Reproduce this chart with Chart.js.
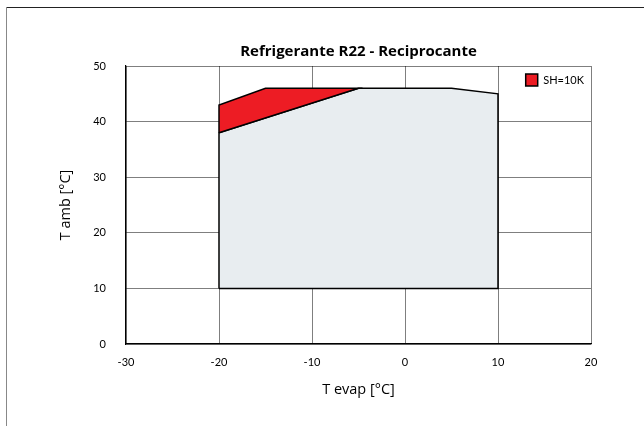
<!DOCTYPE html>
<html><head><meta charset="utf-8">
<script src="https://cdn.jsdelivr.net/npm/chart.js@4/dist/chart.umd.min.js"></script>
<style>html,body{margin:0;padding:0;background:#fff}#wrap{width:644px;height:426px}</style>
</head><body><div id="wrap"><canvas id="c" width="644" height="426"></canvas></div>
<script>
const chartTitle = "Refrigerante R22 - Reciprocante";
const xTitle = "T evap [°C]";
const yTitle = "T amb [°C]";
const seriesName = "SH=10K";
// operating envelope (grey)
const envX = [-20, -20, -5, 5, 10, 10, -20];
const envY = [10, 38, 46, 46, 45, 10, 10];
// SH=10K zone (red)
const redX = [-20, -20, -15, -5, -20];
const redY = [38, 43, 46, 46, 38];
const xMin = -30, xMax = 20, xStep = 10;
const yMin = 0, yMax = 50, yStep = 10;

const toPts = (xs, ys) => xs.map((x, i) => ({x, y: ys[i]}));
const FONT = "Lato, 'Open Sans', sans-serif";
const FONT2 = "'Open Sans', Lato, sans-serif";

const framePlugin = {
  id: 'frame',
  afterLayout(chart) {
    const lg = chart.legend, ca = chart.chartArea;
    if (!lg) return;
    const w = lg.width, h = lg.height;
    lg.left = ca.right - w + 3; lg.right = lg.left + w;
    lg.top = ca.top + 3; lg.bottom = lg.top + h;
  },
  afterDraw(chart) {
    const ctx = chart.ctx;
    ctx.save();
    ctx.strokeStyle = '#222';
    ctx.lineWidth = 1;
    ctx.beginPath(); ctx.moveTo(6, 7.5); ctx.lineTo(644, 7.5); ctx.stroke();
    ctx.strokeStyle = '#888';
    ctx.beginPath(); ctx.moveTo(6.5, 7); ctx.lineTo(6.5, 426); ctx.stroke();
    ctx.restore();
  }
};

new Chart(document.getElementById('c'), {
  type: 'scatter',
  data: {
    datasets: [
      { label: seriesName, data: toPts(redX, redY), showLine: true, fill: 'shape',
        backgroundColor: '#ed1c24', borderColor: '#000', borderWidth: 1.5,
        pointRadius: 0, tension: 0, order: 0 },
      { label: 'envelope', data: toPts(envX, envY), showLine: true, fill: 'shape',
        backgroundColor: '#e8edf0', borderColor: '#000', borderWidth: 1.5,
        pointRadius: 0, tension: 0, order: 1 }
    ]
  },
  options: {
    responsive: false, animation: false, devicePixelRatio: 1,
    layout: { padding: { left: 0, right: 53, top: 0, bottom: 20 } },
    plugins: {
      tooltip: { enabled: false },
      title: { display: true, fullSize: false, text: chartTitle, color: '#000',
        font: { family: FONT2, size: 15, weight: 'bold' }, padding: { top: 43, bottom: 5 } },
      legend: { position: 'chartArea', align: 'start',
        labels: { filter: (it) => it.text === seriesName, boxWidth: 12, boxHeight: 12,
          color: '#000', font: { family: FONT, size: 11 }, padding: 5 } }
    },
    scales: {
      x: { type: 'linear', min: xMin, max: xMax, z: 1,
        ticks: { stepSize: xStep, color: '#000', font: { family: FONT, size: 11 }, padding: 12, maxRotation: 0 },
        grid: { color: 'rgba(0,0,0,0.5)', lineWidth: 1, drawTicks: false },
        border: { color: '#000', width: 1.2 },
        title: { display: true, text: xTitle, color: '#000', font: { family: FONT2, size: 14.5 }, padding: { top: 0, bottom: 7 } },
        afterFit(s) { s.height = 62; } },
      y: { type: 'linear', min: yMin, max: yMax, z: 1,
        ticks: { stepSize: yStep, color: '#000', font: { family: FONT, size: 11 }, padding: 20 },
        grid: { color: 'rgba(0,0,0,0.5)', lineWidth: 1, drawTicks: false },
        border: { color: '#000', width: 1.2 },
        title: { display: true, text: yTitle, color: '#000', font: { family: FONT2, size: 14.5 }, padding: { top: 57, bottom: 0 } },
        afterFit(s) { s.width = 126; } }
    }
  },
  plugins: [framePlugin]
});
</script></body></html>
